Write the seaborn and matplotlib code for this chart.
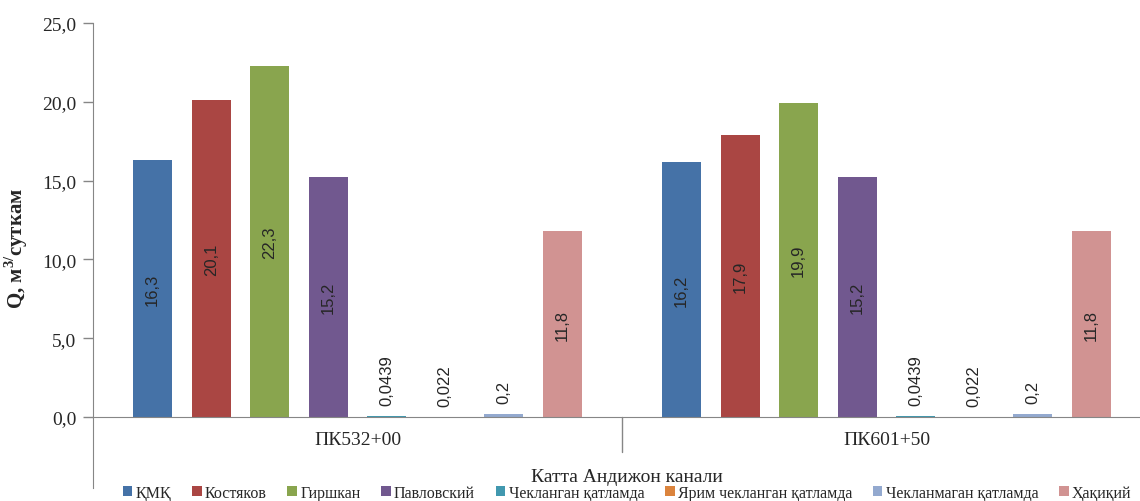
import numpy as np
import pandas as pd
import matplotlib
matplotlib.use("Agg")
import matplotlib.pyplot as plt
import seaborn as sns

# data
sites = ["ПК532+00", "ПК601+50"]
methods = ["ҚМҚ", "Костяков", "Гиршкан", "Павловский",
           "Чекланган қатламда", "Ярим чекланган қатламда",
           "Чекланмаган қатламда", "Ҳақиқий"]
q_pk532 = [16.3, 20.1, 22.3, 15.2, 0.0439, 0.022, 0.2, 11.8]
q_pk601 = [16.2, 17.9, 19.9, 15.2, 0.0439, 0.022, 0.2, 11.8]
colors = ["#4572A7", "#AA4643", "#89A54E", "#71588F",
          "#4198AF", "#DB843D", "#93A9CF", "#D19392"]
yticks = [0, 5, 10, 15, 20, 25]

df = pd.DataFrame({
    "site": np.repeat(sites, len(methods)),
    "method": methods * len(sites),
    "q": q_pk532 + q_pk601,
})

sns.set_style("white")
plt.rcParams["font.family"] = ["Liberation Serif", "DejaVu Serif"]
plt.rcParams["mathtext.fontset"] = "custom"
plt.rcParams["mathtext.rm"] = "Liberation Serif"
plt.rcParams["mathtext.bf"] = "Liberation Serif:bold"

fig = plt.figure(figsize=(11.4, 5.02), dpi=100)
ax = fig.add_axes([93 / 1140, 1 - 489 / 502, 1058 / 1140, (489 - 24) / 502])

sns.barplot(data=df, x="site", y="q", hue="method", hue_order=methods,
            order=sites, palette=colors, width=0.885, gap=0.33,
            saturation=1, ax=ax, edgecolor="none")

ax.set_xlim(-0.5, 1.5)
ax.set_ylim(-4.5, 25)
ax.set_yticks(yticks)
ax.set_yticklabels([f"{t:.1f}".replace(".", ",") for t in yticks], fontsize=14)
ax.tick_params(axis="y", direction="out", length=7, width=1, color="#868686",
               left=True, pad=5)
ax.set_xticks([])
ax.set_xlabel("")
ax.set_ylabel(r"Q, м$^{\mathbf{3/}}$суткам", fontsize=15, fontweight="bold")
ax.yaxis.set_label_coords(-0.060, 0.518)

for s in ["top", "right"]:
    ax.spines[s].set_visible(False)
ax.spines["bottom"].set_position(("data", 0))
ax.spines["bottom"].set_color("#868686")
ax.spines["left"].set_color("#868686")

# category labels and divider under the zero line
for i, s in enumerate(sites):
    ax.text(i, -1.4, s, ha="center", va="center", fontsize=14)
ax.plot([0.5, 0.5], [0, -2.2], color="#868686", lw=1, clip_on=False)

# value labels
for cont in ax.containers:
    for bar in cont:
        v = bar.get_height()
        xc = bar.get_x() + bar.get_width() / 2
        txt = f"{v:g}".replace(".", ",")
        if v > 2:
            ax.text(xc, v / 2, txt, rotation=90, ha="center", va="center",
                    fontsize=12, family="Liberation Sans")
        else:
            ax.text(xc, v + 0.7, txt, rotation=90, ha="center", va="bottom",
                    fontsize=12, family="Liberation Sans")

handles, labels = ax.get_legend_handles_labels()
ax.get_legend().remove()
fig.legend(handles, labels, loc="center", ncol=8, frameon=False,
           bbox_to_anchor=(0.55, 0.016), fontsize=11.5,
           handlelength=0.6, handleheight=0.6, handletextpad=0.2,
           columnspacing=1.3)
fig.text(0.55, 1 - 478 / 502, "Катта Андижон канали", ha="center",
         va="center", fontsize=14)

fig.savefig("out.png", dpi=100)
